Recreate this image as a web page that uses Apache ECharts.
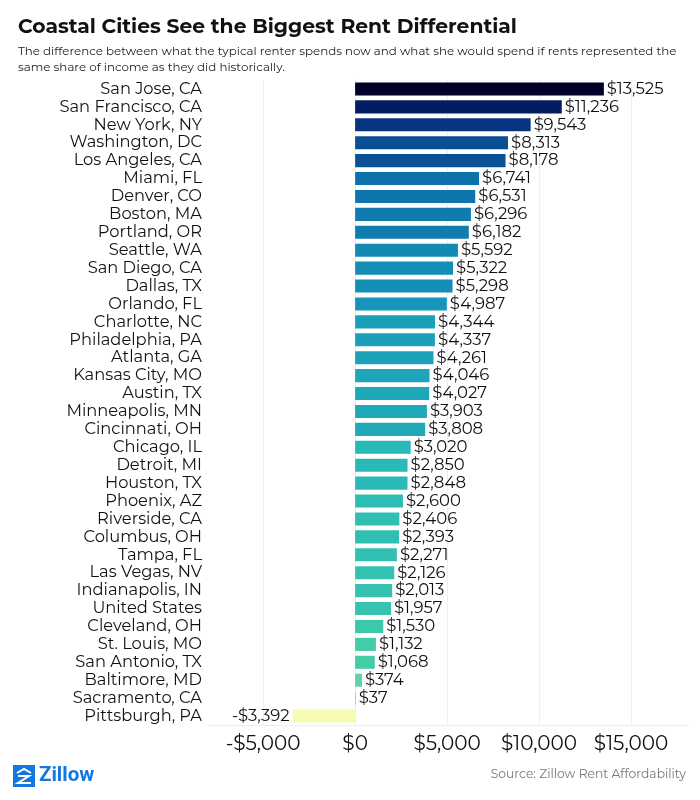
<!DOCTYPE html>
<html><head><meta charset="utf-8">
<script src="https://cdn.jsdelivr.net/npm/echarts@6/dist/echarts.min.js"></script>
<style>html,body{margin:0;padding:0;background:#fff}#c{width:700px;height:800px}</style>
</head><body><div id="c"></div>
<script>
const cities = ["San Jose, CA","San Francisco, CA","New York, NY","Washington, DC","Los Angeles, CA","Miami, FL","Denver, CO","Boston, MA","Portland, OR","Seattle, WA","San Diego, CA","Dallas, TX","Orlando, FL","Charlotte, NC","Philadelphia, PA","Atlanta, GA","Kansas City, MO","Austin, TX","Minneapolis, MN","Cincinnati, OH","Chicago, IL","Detroit, MI","Houston, TX","Phoenix, AZ","Riverside, CA","Columbus, OH","Tampa, FL","Las Vegas, NV","Indianapolis, IN","United States","Cleveland, OH","St. Louis, MO","San Antonio, TX","Baltimore, MD","Sacramento, CA","Pittsburgh, PA"];
const differential = [13525,11236,9543,8313,8178,6741,6531,6296,6182,5592,5322,5298,4987,4344,4337,4261,4046,4027,3903,3808,3020,2850,2848,2600,2406,2393,2271,2126,2013,1957,1530,1132,1068,374,37,-3392];
const tickValues = [-5000,0,5000,10000,15000];

const FONT = "Montserrat, 'Noto Sans', Lato, sans-serif";
function money(v){ const s = '$' + Math.abs(v).toLocaleString('en-US'); return v<0 ? '-'+s : s; }

const chart = echarts.init(document.getElementById('c'));
chart.setOption({
  backgroundColor:'#fff',
  animation:false,
  title:[
    {text:'Coastal Cities See the Biggest Rent Differential', left:13, top:12,
     textStyle:{fontFamily:FONT, fontWeight:'bold', fontSize:20.3, color:'#111'}},
    {text:'The difference between what the typical renter spends now and what she would spend if rents represented the\nsame share of income as they did historically.',
     left:13, top:39, textStyle:{fontFamily:FONT, fontSize:11.85, color:'#222', lineHeight:16, fontWeight:'normal'}}
  ],
  grid:{left:208, right:12, top:80, bottom:75, containLabel:false},
  visualMap:{show:false, type:'continuous', min:-3392, max:13525, dimension:0, seriesIndex:0,
    inRange:{color:['#f7fbb4','#a9e8a8','#46cfa4','#28b9b8','#1593b9','#0b69a6','#0a3784','#031a5e','#000028']}},
  xAxis:{type:'value', min:-8000, max:18100,
    axisLine:{show:true, lineStyle:{color:'#eeeeee'}},
    axisTick:{show:false, customValues:tickValues},
    splitLine:{show:true, lineStyle:{color:'#eeeeee', width:1}},
    axisLabel:{customValues:tickValues, formatter:v=>money(v), fontFamily:FONT, fontSize:20, color:'#111', margin:9}},
  yAxis:{type:'category', inverse:true, data:cities,
    axisLine:{show:true, lineStyle:{color:'#eeeeee'}}, axisTick:{show:false},
    axisLabel:{interval:0, fontFamily:FONT, fontSize:16.3, color:'#111', margin:6}},
  series:[{type:'bar', barCategoryGap:'27%',
    data:differential.map(v=>({value:v, label:{position: v<0 ? 'left' : 'right'}})),
    label:{show:true, formatter:p=>money(p.value), fontFamily:FONT, fontSize:16.5, color:'#111', distance:3}}],
  graphic:[
    {type:'rect', left:13, top:765, shape:{width:22, height:22}, style:{fill:'#1277e1'}},
    {type:'polyline', shape:{points:[[17,773],[24,769],[31,773]]}, style:{stroke:'#fff', lineWidth:2, fill:null}},
    {type:'polyline', shape:{points:[[18,776],[29,776],[18,783],[31,783]]}, style:{stroke:'#fff', lineWidth:2, fill:null}},
    {type:'text', left:39, top:765, style:{text:'Zillow', fill:'#1277e1', font:"bold 20.5px 'Roboto', sans-serif"}},
    {type:'text', right:14, top:768, style:{text:'Source: Zillow Rent Affordability', fill:'#777', font:"12.3px " + FONT}}
  ]
});
</script></body></html>
